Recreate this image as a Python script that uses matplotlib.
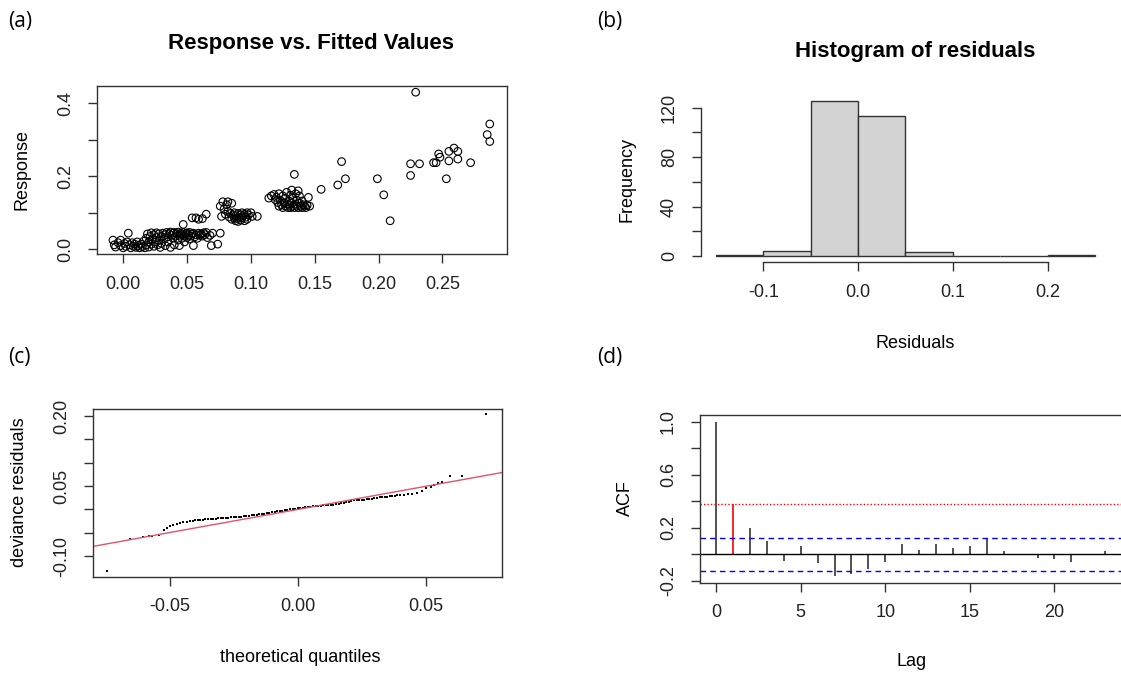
import matplotlib
matplotlib.use("Agg")
import matplotlib.pyplot as plt

plt.rcParams['font.family'] = ['Liberation Sans', 'DejaVu Sans']
plt.rcParams['axes.unicode_minus'] = False

W, H = 1121, 675

# (a) response vs fitted values: (fitted, response)
resp_vs_fit = [
    (-0.008, 0.025), (-0.007, 0.012), (-0.006, 0.006), (-0.004, 0.018), (-0.002, 0.025),
    (-0.002, 0.010), (0.000, 0.004), (0.001, 0.016), (0.002, 0.008), (0.003, 0.020),
    (0.004, 0.044), (0.005, 0.012), (0.006, 0.004), (0.007, 0.018), (0.008, 0.008),
    (0.009, 0.014), (0.010, 0.005), (0.011, 0.020), (0.012, 0.010), (0.013, 0.004),
    (0.014, 0.014), (0.015, 0.007), (0.016, 0.022), (0.017, 0.004), (0.018, 0.030),
    (0.018, 0.012), (0.019, 0.042), (0.020, 0.020), (0.020, 0.006), (0.021, 0.035),
    (0.022, 0.045), (0.022, 0.014), (0.023, 0.027), (0.024, 0.008), (0.024, 0.040),
    (0.025, 0.020), (0.026, 0.045), (0.026, 0.032), (0.027, 0.012), (0.028, 0.042),
    (0.028, 0.024), (0.029, 0.005), (0.030, 0.035), (0.030, 0.016), (0.031, 0.044),
    (0.032, 0.028), (0.033, 0.040), (0.033, 0.010), (0.034, 0.046), (0.035, 0.034),
    (0.035, 0.020), (0.036, 0.042), (0.037, 0.047), (0.037, 0.005), (0.038, 0.038),
    (0.039, 0.030), (0.039, 0.044), (0.040, 0.046), (0.040, 0.012), (0.041, 0.036),
    (0.042, 0.042), (0.043, 0.047), (0.043, 0.025), (0.044, 0.038), (0.044, 0.010),
    (0.045, 0.044), (0.046, 0.040), (0.046, 0.030), (0.047, 0.046), (0.047, 0.068),
    (0.048, 0.036), (0.048, 0.020), (0.049, 0.042), (0.050, 0.045), (0.050, 0.032),
    (0.051, 0.040), (0.052, 0.046), (0.052, 0.028), (0.053, 0.036), (0.054, 0.042),
    (0.054, 0.086), (0.055, 0.010), (0.055, 0.044), (0.056, 0.034), (0.057, 0.040),
    (0.057, 0.086), (0.058, 0.030), (0.059, 0.044), (0.059, 0.082), (0.060, 0.038),
    (0.061, 0.042), (0.062, 0.036), (0.062, 0.084), (0.063, 0.045), (0.064, 0.040),
    (0.065, 0.046), (0.065, 0.096), (0.066, 0.032), (0.068, 0.038), (0.069, 0.010),
    (0.070, 0.044), (0.074, 0.014), (0.076, 0.044),
    (0.076, 0.118), (0.077, 0.090), (0.078, 0.130), (0.079, 0.110), (0.080, 0.096),
    (0.081, 0.122), (0.082, 0.104), (0.082, 0.130), (0.083, 0.088), (0.084, 0.098),
    (0.085, 0.126), (0.085, 0.082), (0.086, 0.094), (0.087, 0.086), (0.087, 0.100),
    (0.088, 0.078), (0.088, 0.092), (0.089, 0.084), (0.090, 0.098), (0.090, 0.076),
    (0.091, 0.088), (0.092, 0.094), (0.092, 0.080), (0.093, 0.100), (0.093, 0.086),
    (0.094, 0.092), (0.095, 0.078), (0.095, 0.096), (0.096, 0.088), (0.097, 0.100),
    (0.097, 0.082), (0.098, 0.094), (0.100, 0.100), (0.101, 0.090), (0.105, 0.090),
    (0.114, 0.140), (0.116, 0.146), (0.118, 0.150), (0.119, 0.136), (0.120, 0.142),
    (0.121, 0.128), (0.122, 0.118), (0.122, 0.152), (0.123, 0.134), (0.124, 0.122),
    (0.125, 0.146), (0.125, 0.114), (0.126, 0.128), (0.127, 0.140), (0.127, 0.118),
    (0.128, 0.156), (0.128, 0.124), (0.129, 0.114), (0.130, 0.132), (0.130, 0.120),
    (0.131, 0.148), (0.131, 0.114), (0.132, 0.162), (0.132, 0.126), (0.133, 0.118),
    (0.133, 0.140), (0.134, 0.114), (0.134, 0.205), (0.135, 0.124), (0.135, 0.152),
    (0.136, 0.118), (0.136, 0.134), (0.137, 0.114), (0.137, 0.160), (0.138, 0.126),
    (0.138, 0.146), (0.139, 0.118), (0.140, 0.114), (0.140, 0.132), (0.141, 0.122),
    (0.142, 0.118), (0.143, 0.114), (0.144, 0.120), (0.145, 0.142), (0.146, 0.118),
    (0.155, 0.164), (0.168, 0.176), (0.171, 0.240), (0.174, 0.193), (0.199, 0.193),
    (0.204, 0.149), (0.209, 0.078), (0.225, 0.202), (0.225, 0.234), (0.229, 0.430),
    (0.232, 0.234), (0.243, 0.237), (0.245, 0.237), (0.247, 0.261), (0.248, 0.252),
    (0.253, 0.193), (0.255, 0.242), (0.255, 0.268), (0.259, 0.277), (0.262, 0.268),
    (0.262, 0.247), (0.272, 0.237), (0.285, 0.314), (0.287, 0.295), (0.287, 0.343),
]

# (b) histogram of residuals
hist_edges = [-0.15, -0.10, -0.05, 0.00, 0.05, 0.10, 0.15, 0.20, 0.25]
hist_counts = [1, 4, 125, 113, 3, 0, 0, 1]

# (c) normal QQ plot of deviance residuals
qq_theo = [
    -0.0744, -0.0656, -0.0605, -0.0580, -0.0567, -0.0542, -0.0523, -0.0510, -0.0497,
    -0.0485, -0.0472, -0.0460, -0.0447, -0.0434, -0.0421, -0.0410,
    -0.040, -0.039, -0.038, -0.037, -0.036, -0.035, -0.034, -0.033, -0.032, -0.031,
    -0.030, -0.029, -0.028, -0.027, -0.026, -0.025, -0.024, -0.023, -0.022, -0.021,
    -0.020, -0.019, -0.018, -0.017, -0.016, -0.015, -0.014, -0.013, -0.012, -0.011,
    -0.010, -0.009, -0.008, -0.007, -0.006, -0.005, -0.004, -0.003, -0.002, -0.001,
    0.000, 0.001, 0.002, 0.003, 0.004, 0.005, 0.006, 0.007, 0.008, 0.009,
    0.010, 0.011, 0.012, 0.013, 0.014, 0.015, 0.016, 0.017, 0.018, 0.019,
    0.020, 0.021, 0.022, 0.023, 0.024, 0.025, 0.026, 0.027, 0.028, 0.029,
    0.030, 0.031, 0.032, 0.033, 0.034, 0.035, 0.036, 0.037, 0.038, 0.039, 0.040,
    0.0415, 0.0430, 0.0447, 0.0465, 0.0484, 0.0503, 0.0519, 0.0534, 0.0548, 0.0563,
    0.0595, 0.0642, 0.0737,
]
qq_resid = [
    -0.131, -0.0626, -0.059, -0.0578, -0.0568, -0.054, -0.0446, -0.040, -0.0353,
    -0.034, -0.031, -0.0288, -0.0277, -0.0266, -0.025, -0.024,
    -0.0232, -0.0228, -0.0224, -0.0220, -0.0212, -0.0208, -0.0204, -0.0200, -0.0195, -0.0192,
    -0.0190, -0.0186, -0.0180, -0.0174, -0.0170, -0.0166, -0.0160, -0.0156, -0.0152, -0.0146,
    -0.0140, -0.0133, -0.0128, -0.0120, -0.0112, -0.0105, -0.0096, -0.0088, -0.0080, -0.0072,
    -0.0062, -0.0052, -0.0044, -0.0035, -0.0025, -0.0012, -0.0004, 0.0004, 0.0010, 0.0016,
    0.0022, 0.0030, 0.0038, 0.0045, 0.0052, 0.0060, 0.0066, 0.0072, 0.0077, 0.0082,
    0.0088, 0.0092, 0.0096, 0.0100, 0.0104, 0.0110, 0.0122, 0.0134, 0.0146, 0.0158,
    0.0168, 0.0180, 0.0196, 0.0203, 0.0206, 0.0208, 0.0210, 0.0214, 0.0220, 0.0232,
    0.0245, 0.0250, 0.0256, 0.0262, 0.0268, 0.0273, 0.0280, 0.0288, 0.0296, 0.0302, 0.0309,
    0.0318, 0.0326, 0.0335, 0.0345, 0.0400, 0.0453, 0.0490, 0.0525, 0.0560, 0.0597,
    0.0719, 0.0719, 0.2036,
]
qq_line = (0.0, 0.99)  # intercept, slope

# (d) ACF of residuals
acf_lags = list(range(24))
acf_vals = [1.0, 0.379, 0.198, 0.103, -0.048, 0.060, -0.068, -0.168, -0.153, -0.110,
            -0.058, 0.078, 0.035, 0.078, 0.050, 0.060, 0.113, 0.023, 0.003, -0.028,
            -0.040, -0.058, -0.002, 0.022]
acf_ci = 0.125
acf_mark_lag = 1

DARK = '#333333'
TICK_FS = 13
LAB_FS = 13


def box(l, t, r, b):
    return [l / W, 1 - b / H, (r - l) / W, (b - t) / H]


def ftext(x, y, s, **kw):
    fig.text(x / W, 1 - y / H, s, **kw)


def style(ax, frame=True):
    for sp in ax.spines.values():
        sp.set_color(DARK)
        sp.set_linewidth(1.0)
        sp.set_visible(frame)
    ax.tick_params(colors=DARK, labelcolor='#222222', length=6.5, width=1.0,
                   labelsize=TICK_FS)
    ax.tick_params(axis='x', pad=9)
    ax.tick_params(axis='y', pad=10)
    for t in ax.get_yticklabels():
        t.set_rotation(90)
        t.set_va('center')


def sparse(vals, keep, fmt):
    return [fmt.format(v) if i in keep else '' for i, v in enumerate(vals)]


fig = plt.figure(figsize=(W / 100, H / 100), dpi=100)

# ---- (a)
ax = fig.add_axes(box(97, 86, 507, 254))
fitted = [p[0] for p in resp_vs_fit]
response = [p[1] for p in resp_vs_fit]
ax.scatter(fitted, response, s=30, facecolors='none', edgecolors='black', linewidths=0.8)
ax.set_xlim(-0.0205, 0.3005)
ax.set_ylim(-0.013, 0.447)
xt = [0.0, 0.05, 0.10, 0.15, 0.20, 0.25]
ax.set_xticks(xt, ['{:.2f}'.format(v) for v in xt])
yt = [0.0, 0.1, 0.2, 0.3, 0.4]
ax.set_yticks(yt, sparse(yt, {0, 2, 4}, '{:.1f}'))
style(ax)
ftext(311, 43, 'Response vs. Fitted Values', ha='center', va='center',
      fontsize=16, fontweight='bold')
ftext(22, 170, 'Response', rotation=90, ha='center', va='center', fontsize=LAB_FS)

# ---- (b)
ax = fig.add_axes(box(701, 95.3, 1110, 262.2))
ax.bar(hist_edges[:-1], hist_counts, width=0.05, align='edge', color='#D3D3D3',
       edgecolor=DARK, linewidth=1.0)
ax.set_xlim(-0.166, 0.266)
ax.set_ylim(-5, 130)
ax.set_xticks([-0.1, 0.0, 0.1, 0.2], ['-0.1', '0.0', '0.1', '0.2'])
yt = [0, 20, 40, 60, 80, 100, 120]
ax.set_yticks(yt, sparse(yt, {0, 2, 4, 6}, '{}'))
style(ax, frame=False)
ax.spines['left'].set_visible(True)
ax.spines['bottom'].set_visible(True)
ax.spines['left'].set_bounds(0, 120)
ax.spines['bottom'].set_bounds(-0.1, 0.2)
ftext(915, 52, 'Histogram of residuals', ha='center', va='center',
      fontsize=16, fontweight='bold')
ftext(627, 179, 'Frequency', rotation=90, ha='center', va='center', fontsize=LAB_FS)
ftext(915, 343, 'Residuals', ha='center', va='center', fontsize=LAB_FS)

# ---- (c)
ax = fig.add_axes(box(93.3, 409.3, 501.7, 576.7))
ax.plot(qq_theo, qq_resid, linestyle='none', marker='s', markersize=1.5,
        color='black', markeredgewidth=0)
ax.set_xlim(-0.0798, 0.0797)
ax.set_ylim(-0.144, 0.2144)
ax.axline((0, qq_line[0]), slope=qq_line[1], color='#DF536B', linewidth=1.0)
ax.set_xticks([-0.05, 0.0, 0.05], ['-0.05', '0.00', '0.05'])
yt = [-0.10, -0.05, 0.0, 0.05, 0.10, 0.15, 0.20]
ax.set_yticks(yt, sparse(yt, {0, 3, 6}, '{:.2f}'))
style(ax)
ftext(20, 492, 'deviance residuals', rotation=90, ha='center', va='center', fontsize=LAB_FS)
ftext(300, 657, 'theoretical quantiles', ha='center', va='center', fontsize=LAB_FS)

# ---- (d)
ax = fig.add_axes(box(700, 415.3, 1123, 582.7))
ax.vlines(acf_lags, 0, acf_vals,
          colors=['red' if l == acf_mark_lag else DARK for l in acf_lags], linewidth=1.2)
ax.axhline(0, color='black', linewidth=1.0)
ax.axhline(acf_ci, color='blue', linestyle=(0, (4, 3)), linewidth=1.0)
ax.axhline(-acf_ci, color='blue', linestyle=(0, (4, 3)), linewidth=1.0)
ax.axhline(acf_vals[acf_mark_lag], color='red', linestyle=(0, (1, 1.5)), linewidth=1.0)
ax.set_xlim(-0.95, 24.05)
ax.set_ylim(-0.215, 1.047)
ax.set_xticks([0, 5, 10, 15, 20])
yt = [-0.2, 0.0, 0.2, 0.4, 0.6, 0.8, 1.0]
ax.set_yticks(yt, sparse(yt, {0, 2, 4, 6}, '{:.1f}'))
style(ax)
ax.spines['right'].set_visible(False)
ftext(625, 498, 'ACF', rotation=90, ha='center', va='center', fontsize=LAB_FS)
ftext(912, 662, 'Lag', ha='center', va='center', fontsize=LAB_FS)

# panel letters
for lx, ly, s in [(8, 22, '(a)'), (597, 22, '(b)'), (8, 357, '(c)'), (597, 357, '(d)')]:
    ftext(lx, ly, s, ha='left', va='center', fontsize=15, family=['Open Sans', 'DejaVu Sans'])

fig.savefig('out.png', dpi=100)
